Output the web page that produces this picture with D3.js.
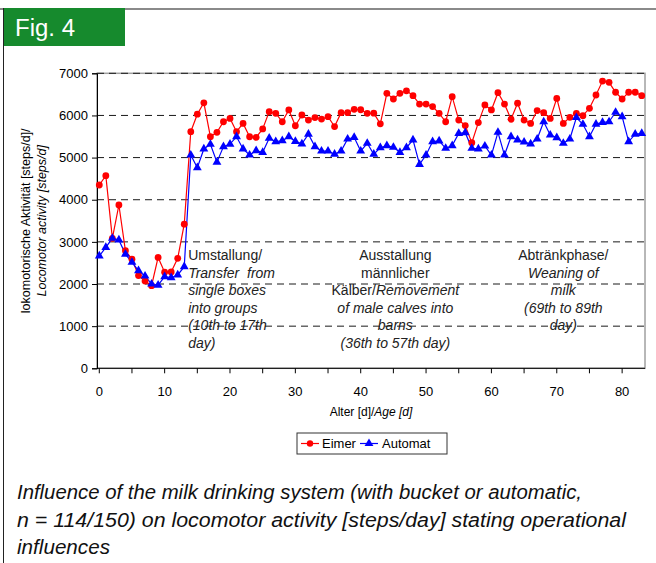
<!DOCTYPE html>
<html>
<head>
<meta charset="utf-8">
<script src="https://cdn.jsdelivr.net/npm/d3@7"></script>
<style>
  body { margin: 0; background: #fff; }
  svg { display: block; font-family: "Liberation Sans", Arial, sans-serif; }
</style>
</head>
<body>
<div id="chart"></div>
<script>
// Daily means, day 0..83
const days = d3.range(0, 84);
const eimer = [
  4350, 4570, 3085, 3875, 2790, 2590, 2200, 2070, 1960, 2630,
  2280, 2285, 2610, 3420, 5615, 6030, 6300, 5495, 5600, 5850,
  5930, 5615, 5810, 5495, 5480, 5680, 6090, 6050, 5850, 6130,
  5755, 6010, 5890, 5950, 5915, 5970, 5735, 6065, 6065, 6145,
  6135, 6050, 6055, 5800, 6525, 6390, 6525, 6585, 6470, 6270,
  6270, 6210, 6050, 5850, 6445, 5890, 5760, 5355, 5830, 6250,
  6130, 6540, 6270, 5910, 6290, 5890, 5810, 6115, 6065, 5930,
  6405, 5810, 5955, 6050, 5995, 6170, 6485, 6815, 6785, 6550,
  6390, 6550, 6550, 6470
];
const automat = [
  2665, 2870, 3085, 3045, 2710, 2515, 2315, 2190, 2000, 1975,
  2175, 2150, 2215, 2410, 5060, 4760, 5205, 5315, 4890, 5260,
  5320, 5495, 5205, 5060, 5165, 5125, 5460, 5380, 5400, 5495,
  5385, 5325, 5555, 5260, 5155, 5155, 5080, 5155, 5440, 5480,
  5155, 5340, 5080, 5235, 5285, 5245, 5125, 5235, 5420, 4840,
  5060, 5380, 5395, 5220, 5285, 5575, 5590, 5220, 5205, 5275,
  5060, 5600, 5060, 5495, 5420, 5370, 5325, 5440, 5850, 5535,
  5475, 5340, 5440, 5950, 5790, 5495, 5795, 5835, 5850, 6075,
  5970, 5380, 5555, 5575
];
const yTicks = [0, 1000, 2000, 3000, 4000, 5000, 6000, 7000];
const xLabelTicks = [0, 10, 20, 30, 40, 50, 60, 70, 80];
const xMinorTicks = d3.range(0, 85, 5);
const seriesNames = ['Eimer', 'Automat'];

// Operational influence notes: [text, italic] pieces per line
const notes = [
  { anchor: 'start', day: 13.6, lines: [
    [['Umstallung/', false]],
    [['Transfer  from', true]],
    [['single boxes', true]],
    [['into groups', true]],
    [['(10th to 17th', true]],
    [['day)', true]]
  ]},
  { anchor: 'middle', day: 45.3, lines: [
    [['Ausstallung', false]],
    [['männlicher', false]],
    [['Kälber/', false], ['Removement', true]],
    [['of male calves into', true]],
    [['barns', true]],
    [['(36th to 57th day)', true]]
  ]},
  { anchor: 'middle', day: 71.0, lines: [
    [['Abtränkphase/', false]],
    [['Weaning of', true]],
    [['milk', true]],
    [['(69th to 89th', true]],
    [['day)', true]]
  ]}
];

const captionLines = [
  'Influence of the milk drinking system (with bucket or automatic,',
  'n = 114/150) on locomotor activity [steps/day] stating operational',
  'influences'
];
const captionWidths = [565, 609, 93];

const W = 656, H = 563;
const svg = d3.select('#chart').append('svg')
  .attr('width', W)
  .attr('height', H);

// frame: top rule, left rule, green tag
svg.append('line')
  .attr('x1', 0).attr('x2', W).attr('y1', 9).attr('y2', 9)
  .attr('stroke', '#8a8a8a').attr('stroke-width', 2);
svg.append('line')
  .attr('x1', 3.5).attr('x2', 3.5).attr('y1', 8).attr('y2', H)
  .attr('stroke', '#222').attr('stroke-width', 1);
svg.append('rect')
  .attr('x', 4).attr('y', 8).attr('width', 121).attr('height', 38)
  .attr('fill', '#168a2d');
svg.append('text')
  .attr('x', 15).attr('y', 36)
  .attr('fill', '#fff')
  .attr('font-size', '23px')
  .attr('textLength', 60)
  .attr('lengthAdjust', 'spacingAndGlyphs')
  .text('Fig. 4');

const x = d3.scaleLinear().domain([-0.35, 83.5]).range([97, 645]);
const y = d3.scaleLinear().domain([0, 7000]).range([368.3, 73.3]);

// plot border
svg.append('rect')
  .attr('x', x.range()[0]).attr('y', y.range()[1])
  .attr('width', x.range()[1] - x.range()[0])
  .attr('height', y.range()[0] - y.range()[1])
  .attr('fill', 'none')
  .attr('stroke', '#a0a0a0')
  .attr('stroke-width', 1.5);

// notes (gridlines go over them, as in the original)
const noteG = svg.append('g')
  .attr('fill', '#222')
  .attr('font-size', '14px');
notes.forEach(n => {
  n.lines.forEach((parts, i) => {
    const t = noteG.append('text')
      .attr('x', x(n.day))
      .attr('y', 260 + i * 17.5)
      .attr('text-anchor', n.anchor);
    parts.forEach(p => {
      t.append('tspan')
        .attr('font-style', p[1] ? 'italic' : 'normal')
        .attr('xml:space', 'preserve')
        .text(p[0]);
    });
  });
});

// dashed gridlines
svg.append('g')
  .selectAll('line')
  .data(yTicks.filter(d => d > 0))
  .join('line')
  .attr('x1', x.range()[0])
  .attr('x2', x.range()[1])
  .attr('y1', d => y(d))
  .attr('y2', d => y(d))
  .attr('stroke', '#1a1a1a')
  .attr('stroke-width', 1)
  .attr('stroke-dasharray', '7,5');

// axes
svg.append('g')
  .attr('transform', `translate(${x.range()[0]},0)`)
  .call(d3.axisLeft(y).tickValues(yTicks).tickSize(5).tickPadding(4).tickFormat(d3.format('d')))
  .call(g => g.select('.domain').attr('stroke', '#000'))
  .call(g => g.selectAll('.tick line').attr('stroke', '#000'))
  .selectAll('text')
  .attr('fill', '#000')
  .style('font-family', '"Liberation Sans", Arial, sans-serif')
  .style('font-size', '13px');

const xAxisG = svg.append('g')
  .attr('transform', `translate(0,${y.range()[0]})`);
xAxisG.append('line')
  .attr('x1', x.range()[0]).attr('x2', x.range()[1])
  .attr('stroke', '#000');
xAxisG.selectAll('.xtick')
  .data(xMinorTicks)
  .join('line')
  .attr('x1', d => x(d)).attr('x2', d => x(d))
  .attr('y1', 0).attr('y2', 5)
  .attr('stroke', '#000');
xAxisG.selectAll('.xlab')
  .data(xLabelTicks)
  .join('text')
  .attr('x', d => x(d))
  .attr('y', 28)
  .attr('text-anchor', 'middle')
  .attr('fill', '#000')
  .attr('font-size', '13px')
  .text(d => d);

// axis titles
const xt = svg.append('text')
  .attr('x', 371).attr('y', 416)
  .attr('text-anchor', 'middle')
  .attr('font-size', '12px')
  .attr('fill', '#000');
xt.append('tspan').text('Alter [d]/');
xt.append('tspan').attr('font-style', 'italic').text('Age [d]');

const yt = svg.append('g')
  .attr('transform', `translate(0,${(y.range()[0] + y.range()[1]) / 2})rotate(-90)`)
  .attr('font-size', '12.5px')
  .attr('fill', '#000');
yt.append('text')
  .attr('x', 0).attr('y', 30)
  .attr('text-anchor', 'middle')
  .text('lokomotorische Aktivität [steps/d]/');
yt.append('text')
  .attr('x', 0).attr('y', 46)
  .attr('text-anchor', 'middle')
  .attr('font-style', 'italic')
  .text('Locomotor activity [steps/d]');

// series
const line = d3.line().x((d, i) => x(days[i])).y(d => y(d));
const tri = d3.symbol().type(d3.symbolTriangle).size(34);

svg.append('path')
  .datum(eimer)
  .attr('d', line)
  .attr('fill', 'none')
  .attr('stroke', '#ff0000')
  .attr('stroke-width', 1.2);
svg.append('path')
  .datum(automat)
  .attr('d', line)
  .attr('fill', 'none')
  .attr('stroke', '#0000ff')
  .attr('stroke-width', 1.2);

svg.append('g')
  .selectAll('circle')
  .data(eimer)
  .join('circle')
  .attr('cx', (d, i) => x(days[i]))
  .attr('cy', d => y(d))
  .attr('r', 3.4)
  .attr('fill', '#ff0000');

svg.append('g')
  .selectAll('path')
  .data(automat)
  .join('path')
  .attr('transform', (d, i) => `translate(${x(days[i])},${y(d)})`)
  .attr('d', tri)
  .attr('fill', '#0000ff');

// legend
const lg = svg.append('g').attr('transform', 'translate(297,433)');
lg.append('rect')
  .attr('width', 150).attr('height', 21)
  .attr('fill', '#fff')
  .attr('stroke', '#333');
const legendItems = [
  { name: seriesNames[0], color: '#ff0000', x0: 4, tx: 25, shape: 'circle' },
  { name: seriesNames[1], color: '#0000ff', x0: 63, tx: 85, shape: 'tri' }
];
legendItems.forEach(it => {
  lg.append('line')
    .attr('x1', it.x0).attr('x2', it.x0 + 18)
    .attr('y1', 10.5).attr('y2', 10.5)
    .attr('stroke', it.color).attr('stroke-width', 1.2);
  if (it.shape === 'circle') {
    lg.append('circle').attr('cx', it.x0 + 9).attr('cy', 10.5).attr('r', 3.2).attr('fill', it.color);
  } else {
    lg.append('path').attr('transform', `translate(${it.x0 + 9},10.5)`).attr('d', tri).attr('fill', it.color);
  }
  lg.append('text')
    .attr('x', it.tx).attr('y', 15)
    .attr('font-size', '13px')
    .attr('fill', '#000')
    .text(it.name);
});

// caption
svg.append('g')
  .selectAll('text')
  .data(captionLines)
  .join('text')
  .attr('x', 17)
  .attr('y', (d, i) => 499 + i * 27.5)
  .attr('font-size', '20px')
  .attr('font-style', 'italic')
  .attr('fill', '#111')
  .attr('textLength', (d, i) => captionWidths[i])
  .attr('lengthAdjust', 'spacingAndGlyphs')
  .text(d => d);
</script>
</body>
</html>
